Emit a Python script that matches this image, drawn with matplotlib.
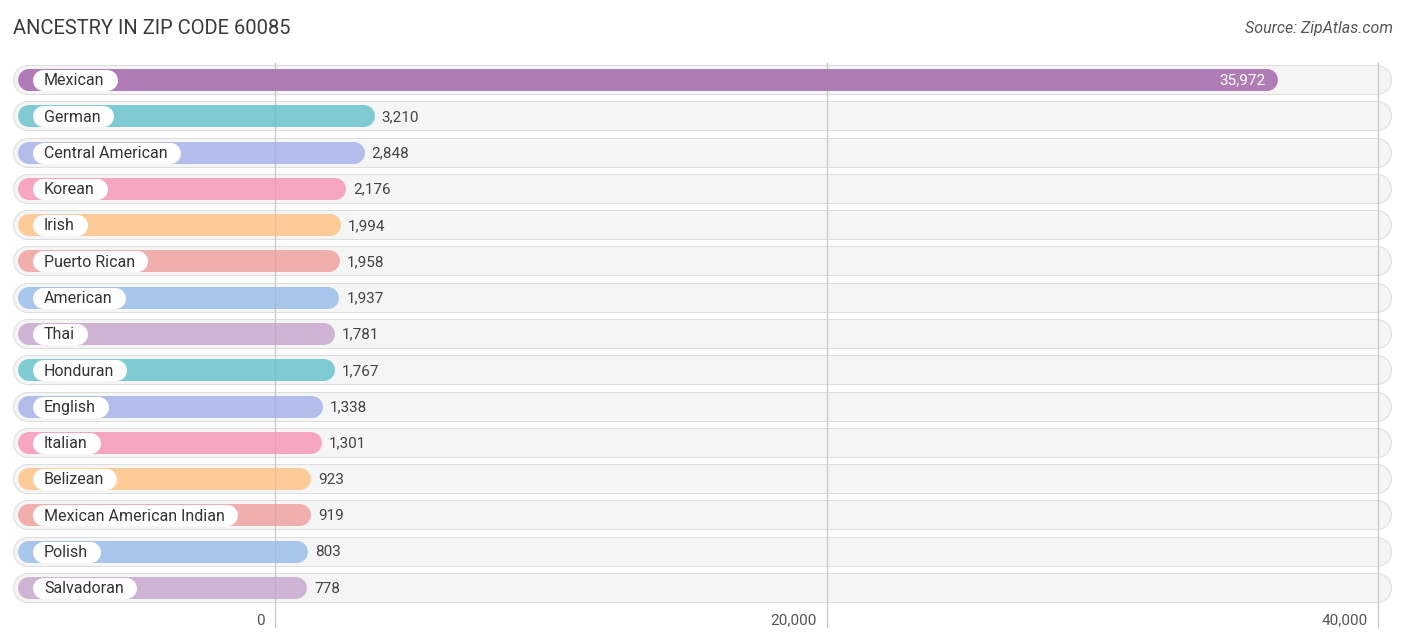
import matplotlib.pyplot as plt

# Ancestry data
groups = ["Mexican", "German", "Central American", "Korean", "Irish",
          "Puerto Rican", "American", "Thai", "Honduran", "English",
          "Italian", "Belizean", "Mexican American Indian", "Polish", "Salvadoran"]
counts = [35972, 3210, 2848, 2176, 1994, 1958, 1937, 1781, 1767, 1338,
          1301, 923, 919, 803, 778]
colors = ["#b07cb5", "#7ecbd4", "#b3bdec", "#f7a6c0", "#fccb98",
          "#f0aead", "#a8c6ec", "#cfb3d4", "#7ecbd4", "#b3bdec",
          "#f7a6c0", "#fccb98", "#f0aead", "#a8c6ec", "#cfb3d4"]
ticks = [0, 20000, 40000]

W, H, DPI = 1406, 644, 100
fig = plt.figure(figsize=(W / DPI, H / DPI), dpi=DPI)
ax = fig.add_axes([0, 0, 1, 1])
ax.set_axis_off()

# pixel <-> data helpers (0 sits at px 275, 40,000 at px 1378)
x0_px, x40_px = 275, 1378
upp = 40000 / (x40_px - x0_px)        # data units per pixel in x
row0_px, row_step = 80, 36.29
ax.set_xlim(-x0_px * upp, (W - x0_px) * upp)
ax.set_ylim((H - row0_px) / row_step, -row0_px / row_step)

def px2x(p):
    return (p - x0_px) * upp

def pt(px):
    return px * 72 / DPI

font = "Roboto"
n = len(groups)

for i, (g, v, c) in enumerate(zip(groups, counts, colors)):
    # row background pill
    ax.plot([px2x(13 + 15), px2x(1392 - 15)], [i, i], color="#dddddd",
            lw=pt(30), solid_capstyle="round", zorder=1)
    ax.plot([px2x(13 + 15), px2x(1392 - 15)], [i, i], color="#f5f5f5",
            lw=pt(28), solid_capstyle="round", zorder=1.1)
    # bar
    ax.plot([px2x(18 + 11), v], [i, i], color=c, lw=pt(22),
            solid_capstyle="round", zorder=2)

# gridlines
ax.vlines(ticks, -0.5, 15.1, color="#d6d6d6", lw=1, zorder=1.5)
ax.vlines(ticks, -0.5, 15.1, color="#888888", lw=0.8, alpha=0.15, zorder=2.5)
for t in ticks:
    ax.text(t - 10 * upp, 14.9, f"{t:,}", ha="right", va="center",
            fontsize=11, color="#555555", family=font)

# category labels with white pills
labels = []
for i, g in enumerate(groups):
    labels.append(ax.text(px2x(44), i + 0.02, g, ha="left", va="center",
                          fontsize=11.5, color="#333333", family=font, zorder=5))
fig.canvas.draw()
r = fig.canvas.get_renderer()
for i, t in enumerate(labels):
    bb = t.get_window_extent(renderer=r)
    ax.plot([px2x(bb.x0 - 1), px2x(bb.x1 + 2)], [i, i], color="white",
            lw=pt(21), solid_capstyle="round", zorder=4)

# value labels
for i, v in enumerate(counts):
    if v > 20000:
        ax.text(v - 1 * upp, i + 0.02, f"{v:,}", ha="right", va="center",
                fontsize=11, color="white", family=font, zorder=5)
    else:
        ax.text(v + 18 * upp, i + 0.02, f"{v:,}", ha="left", va="center",
                fontsize=11, color="#444444", family=font, zorder=5)

fig.text(13 / W, 1 - 28 / H, "ANCESTRY IN ZIP CODE 60085", ha="left",
         va="center", fontsize=14.5, color="#3a3a3a", family=font)
fig.text(1393 / W, 1 - 28 / H, "Source: ZipAtlas.com", ha="right",
         va="center", fontsize=11.5, color="#555555", style="italic",
         family=font)

fig.savefig("out.png", dpi=DPI)
